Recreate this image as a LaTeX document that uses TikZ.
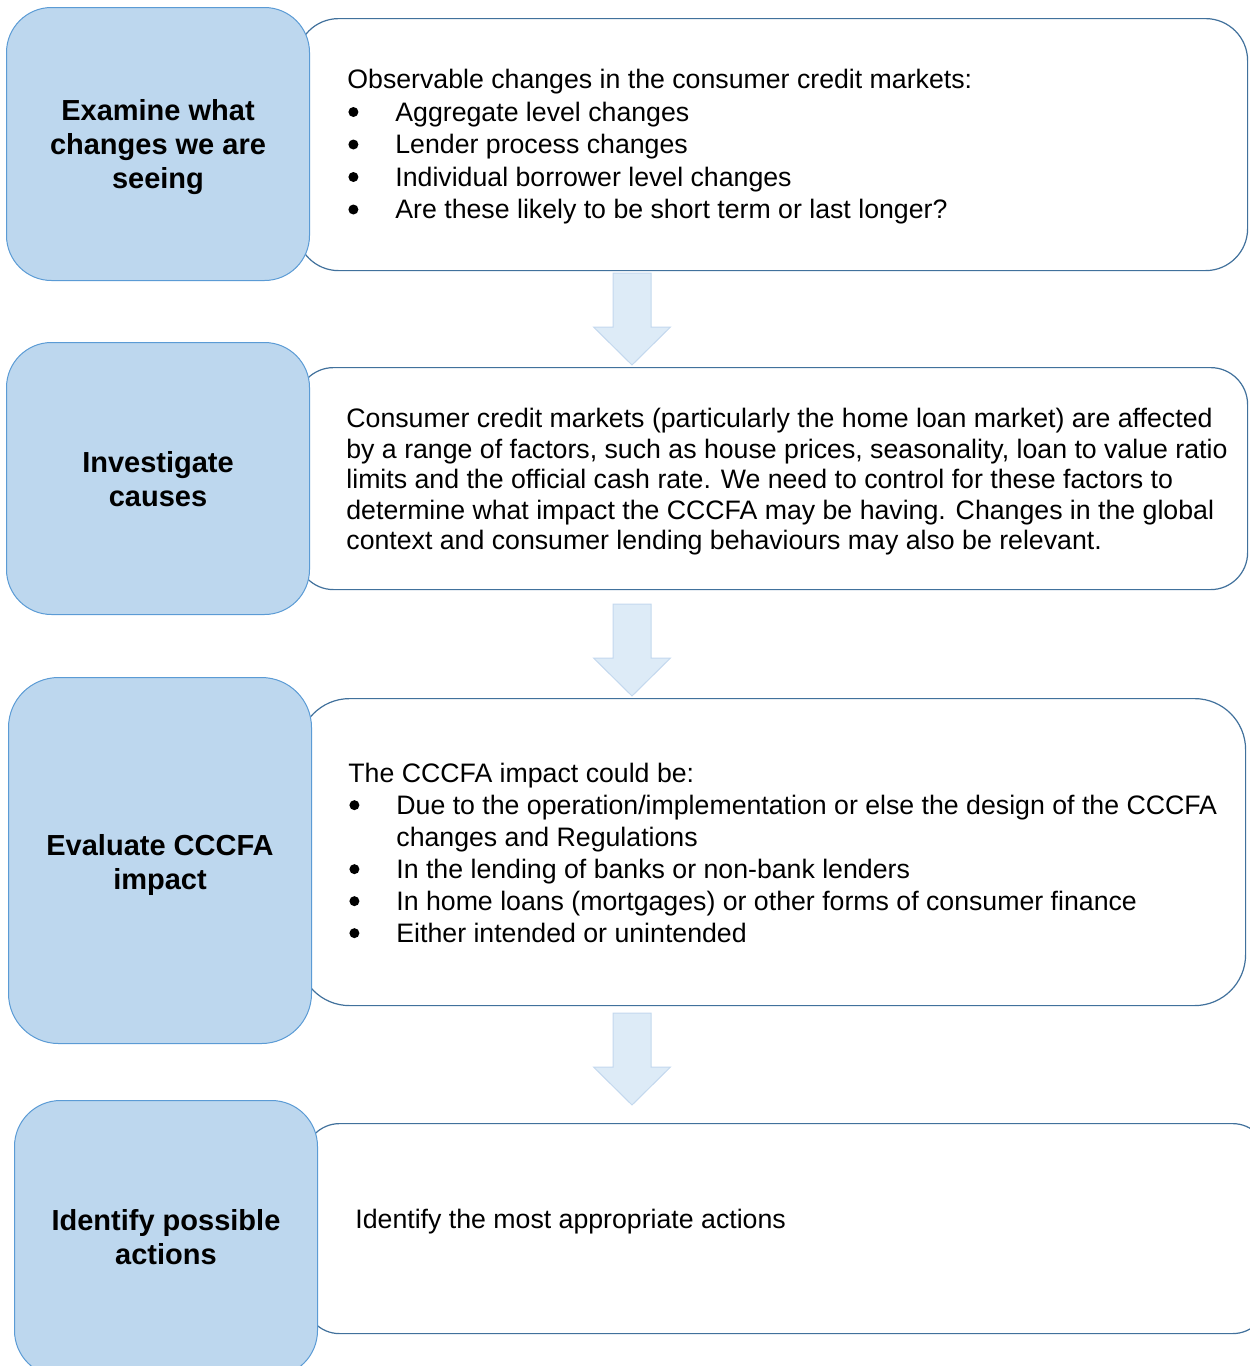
\documentclass[tikz,border=0pt]{standalone}
\usepackage{fontspec}
\setmainfont{Liberation Sans}
\usetikzlibrary{positioning}

\definecolor{stagefill}{HTML}{BDD7EE}
\definecolor{stageline}{HTML}{5B9BD5}
\definecolor{noteline}{HTML}{41719C}
\definecolor{flowfill}{HTML}{DDEBF7}
\definecolor{flowline}{HTML}{C3D8EE}

%% round bullet with its hanging indent
\newcommand\bul{\makebox[24pt][l]{\hspace{0.5pt}\tikz[baseline=0pt]\fill (2.5pt,4.7pt) circle (2.5pt);}}

\tikzset{
  stage/.style={draw=stageline, fill=stagefill, line width=0.5pt,
    anchor=north west, inner sep=0pt, minimum width=151.5pt},
  stagetext/.style={align=center, inner sep=0pt,
    font=\fontsize{14.5}{17}\selectfont\bfseries},
  note/.style={draw=noteline, fill=white, line width=0.6pt,
    anchor=north west, inner sep=0pt},
  notetext/.style={anchor=west, align=left, inner sep=0pt,
    font=\fontsize{13.35}{16}\selectfont},
  pics/flowarrow/.style={code={
    \draw[draw=flowline, fill=flowfill, line width=0.5pt]
      (-19,0) -- (19,0) -- (19,54) -- (38.5,54) -- (0,92)
      -- (-38.5,54) -- (-19,54) -- cycle;}},
}

\begin{document}
\begin{tikzpicture}[x=0.5pt, y=-0.5pt]
\useasboundingbox (0,0) rectangle (1249,1366);

%% white description boxes
\node[note, rounded corners=21pt, minimum width=475.5pt, minimum height=126pt] (note1) at (296,18) {};
\node[note, rounded corners=18.5pt, minimum width=475.5pt, minimum height=111pt] (note2) at (296,367) {};
\node[note, rounded corners=25.5pt, minimum width=473.5pt, minimum height=153.5pt] (note3) at (298,698) {};
\node[note, rounded corners=17.5pt, minimum width=481.5pt, minimum height=105pt] (note4) at (304,1123) {};

%% blue step boxes
\node[stage, rounded corners=22.5pt, minimum height=136.5pt] (stage1) at (6,7) {};
\node[stage, rounded corners=22.5pt, minimum height=136pt] (stage2) at (6,342) {};
\node[stage, rounded corners=25pt, minimum height=183pt] (stage3) at (8,677) {};
\node[stage, rounded corners=23pt, minimum height=138pt] (stage4) at (14,1100) {};

\node[stagetext] (label1) at ([yshift=-1.5pt]stage1.center) {Examine what\\changes we are\\seeing};
\node[stagetext] (label2) at ([yshift=-0.5pt]stage2.center) {Investigate\\causes};
\node[stagetext] (label3) at ([yshift=-2pt]stage3.center) {Evaluate CCCFA\\impact};
\node[stagetext] (label4) at ([yshift=0.5pt]stage4.center) {Identify possible\\actions};

%% texts
\node[notetext, font=\fontsize{13.35}{16.25}\selectfont] (text1) at (347,147) {Observable changes in the consumer credit markets:\\
  \bul Aggregate level changes\\
  \bul Lender process changes\\
  \bul Individual borrower level changes\\
  \bul Are these likely to be short term or last longer?};
\node[notetext, font=\fontsize{13.35}{15.25}\selectfont] (text2) at (346,482) {Consumer credit markets (particularly the home loan market) are affected\\
  by a range of factors, such as house prices, seasonality, loan to value ratio\\
  limits and the official cash rate. We need to control for these factors to\\
  determine what impact the CCCFA may be having. Changes in the global\\
  context and consumer lending behaviours may also be relevant.};
\node[notetext] (text3) at (348,853) {The CCCFA impact could be:\\
  \bul Due to the operation/implementation or else the design of the CCCFA\\
  \hspace*{24pt}changes and Regulations\\
  \bul In the lending of banks or non-bank lenders\\
  \bul In home loans (mortgages) or other forms of consumer finance\\
  \bul Either intended or unintended};
\node[notetext] (text4) at (355,1222) {Identify the most appropriate actions};

%% arrows between the steps
\pic at (632,273) {flowarrow};
\pic at (632,604) {flowarrow};
\pic at (632,1013) {flowarrow};

\end{tikzpicture}
\end{document}
